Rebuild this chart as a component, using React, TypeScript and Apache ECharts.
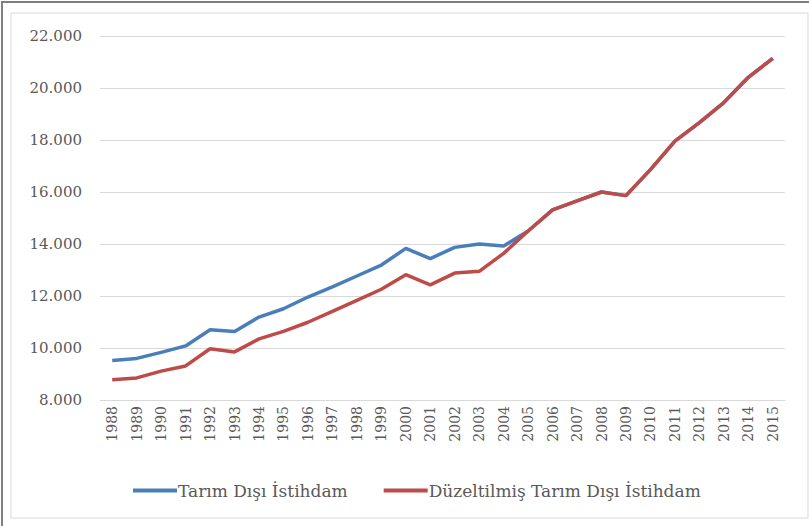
import React, { useEffect, useRef } from "react";
import * as echarts from "echarts";

const years = [
  "1988", "1989", "1990", "1991", "1992", "1993", "1994", "1995", "1996", "1997",
  "1998", "1999", "2000", "2001", "2002", "2003", "2004", "2005", "2006", "2007",
  "2008", "2009", "2010", "2011", "2012", "2013", "2014", "2015",
];

const tarimDisi = [
  9520, 9600, 9830, 10080, 10700, 10630, 11190, 11510, 11960, 12350,
  12770, 13190, 13830, 13440, 13870, 14000, 13920, 14500, 15310, 15660,
  16000, 15860, 16860, 17960, 18670, 19440, 20410, 21140,
];

const duzeltilmis = [
  8780, 8850, 9110, 9310, 9970, 9850, 10350, 10640, 10990, 11410,
  11830, 12260, 12820, 12430, 12880, 12950, 13640, 14500, 15310, 15660,
  16000, 15860, 16860, 17960, 18670, 19440, 20410, 21140,
];

const seriesNames = ["Tarım Dışı İstihdam", "Düzeltilmiş Tarım Dışı İstihdam"];

const FONT = "DejaVu Serif";

export default function App() {
  const ref = useRef<HTMLDivElement>(null);
  useEffect(() => {
    if (!ref.current) return;
    const chart = echarts.init(ref.current, undefined, { renderer: "svg" });
    chart.setOption({
      animation: false,
      backgroundColor: "#ffffff",
      graphic: [
        {
          type: "rect",
          shape: { x: 2, y: 2, width: 812, height: 530 },
          style: { fill: "none", stroke: "#7f7f7f", lineWidth: 2 },
          silent: true,
        },
        {
          type: "rect",
          shape: { x: 11, y: 13, width: 797, height: 505 },
          style: { fill: "none", stroke: "#d9d9d9", lineWidth: 1 },
          silent: true,
        },
      ],
      grid: { left: 100, right: 24, top: 36, bottom: 126 },
      legend: {
        left: 128,
        top: 477,
        icon: "rect",
        itemWidth: 44,
        itemHeight: 4,
        itemGap: 36,
        textStyle: { fontFamily: FONT, fontSize: 17, color: "#595959", padding: [0, 0, 0, -4] },
        data: seriesNames,
      },
      xAxis: {
        type: "category",
        data: years,
        boundaryGap: true,
        axisLine: { lineStyle: { color: "#d9d9d9" } },
        axisTick: { show: false },
        axisLabel: {
          rotate: 90,
          interval: 0,
          margin: 6,
          fontFamily: FONT,
          fontSize: 14,
          color: "#595959",
        },
      },
      yAxis: {
        type: "value",
        min: 8000,
        max: 22000,
        interval: 2000,
        axisLine: { show: false },
        axisTick: { show: false },
        splitLine: { lineStyle: { color: "#d9d9d9", width: 1 } },
        axisLabel: {
          margin: 18,
          fontFamily: FONT,
          fontSize: 15,
          color: "#595959",
          formatter: (v: number) => {
            const s = String(v);
            return s.slice(0, s.length - 3) + "." + s.slice(s.length - 3);
          },
        },
      },
      series: [
        {
          name: seriesNames[0],
          type: "line",
          data: tarimDisi,
          symbol: "none",
          lineStyle: { width: 3.5, color: "#4a7ebb" },
          itemStyle: { color: "#4a7ebb" },
          z: 2,
        },
        {
          name: seriesNames[1],
          type: "line",
          data: duzeltilmis,
          symbol: "none",
          lineStyle: { width: 3.5, color: "#be4b48" },
          itemStyle: { color: "#be4b48" },
          z: 3,
        },
      ],
    });
    return () => chart.dispose();
  }, []);
  return (
    <div
      ref={ref}
      style={{ position: "fixed", left: 0, top: 0, width: 809, height: 526 }}
    />
  );
}
